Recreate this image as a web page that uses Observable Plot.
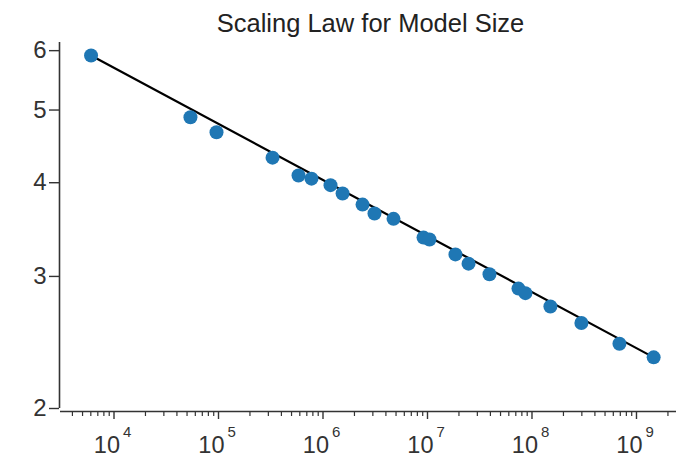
<!DOCTYPE html>
<html>
<head>
<meta charset="utf-8">
<script src="https://cdn.jsdelivr.net/npm/d3@7"></script>
<script src="https://cdn.jsdelivr.net/npm/@observablehq/plot@0.6"></script>
<style>
  html, body { margin: 0; padding: 0; background: #fff; }
</style>
</head>
<body>
<div id="chart"></div>
<script>
const title = "Scaling Law for Model Size";

// Observed points (model size, loss)
const modelSize = [6030, 53900, 95700, 329000, 583000, 776000, 1.18e6, 1.54e6, 2.39e6, 3.11e6, 4.73e6,
                   9.16e6, 1.045e7, 1.85e7, 2.47e7, 3.92e7, 7.42e7, 8.65e7, 1.50e8, 2.97e8, 6.87e8, 1.46e9];
const loss      = [5.91, 4.89, 4.67, 4.32, 4.09, 4.05, 3.97, 3.87, 3.74, 3.64, 3.58,
                   3.38, 3.36, 3.21, 3.12, 3.02, 2.89, 2.85, 2.735, 2.60, 2.44, 2.34];

// Fitted power-law line endpoints
const fitX = [6030, 1.46e9];
const fitY = [5.91, 2.34];

// Tick labels
const yTicks = [2, 3, 4, 5, 6];
const xMajor = [1e4, 1e5, 1e6, 1e7, 1e8, 1e9];
const xExponents = ["4", "5", "6", "7", "8", "9"];

const xDomain = [3076, 2.415e9];
const yDomain = [2, 6.152];

const points = modelSize.map((m, i) => ({size: m, loss: loss[i]}));
const fit = fitX.map((x, i) => ({size: x, loss: fitY[i]}));
const majors = xMajor.map((v, i) => ({v, e: xExponents[i]}));

const xMinor = [];
for (let d = 1e3; d <= 1e9; d *= 10) {
  for (let k = 2; k <= 9; k++) {
    const v = d * k;
    if (v >= xDomain[0] && v <= xDomain[1]) xMinor.push(v);
  }
}

const axisColor = "#333";

const plot = Plot.plot({
  width: 676,
  height: 461,
  marginLeft: 60,
  marginRight: 0,
  marginTop: 42,
  marginBottom: 53,
  style: {fontFamily: "'Liberation Sans', Arial, Helvetica, sans-serif", color: axisColor, background: "#fff"},
  x: {type: "log", domain: xDomain},
  y: {type: "log", domain: yDomain},
  marks: [
    // spines
    Plot.ruleY([yDomain[0]], {stroke: axisColor, strokeWidth: 1.6, dy: 3}),
    Plot.ruleX([xDomain[0]], {stroke: axisColor, strokeWidth: 1.6, dx: -1}),
    // y axis
    Plot.axisY(yTicks, {tickSize: 10, tickPadding: 3, dx: -1, fontSize: 24, tickFormat: d => String(d), label: null, strokeWidth: 1.4}),
    // x axis ticks
    Plot.axisX(xMajor, {tickSize: 8, dy: 3, tickFormat: () => "", label: null, strokeWidth: 1.4}),
    Plot.axisX(xMinor, {tickSize: 5, dy: 3, tickFormat: () => "", label: null, strokeWidth: 1.2}),
    // x tick labels: 10^n
    Plot.text(majors, {x: "v", frameAnchor: "bottom", text: () => "10", textAnchor: "end", lineAnchor: "bottom", dx: 6, dy: 44, fontSize: 23.5, fill: axisColor}),
    Plot.text(majors, {x: "v", frameAnchor: "bottom", text: "e", textAnchor: "start", lineAnchor: "bottom", dx: 9, dy: 28, fontSize: 15, fill: axisColor}),
    // fit line and points
    Plot.line(fit, {x: "size", y: "loss", stroke: "#000", strokeWidth: 2.2}),
    Plot.dot(points, {x: "size", y: "loss", r: 7, fill: "#1f77b4", stroke: "none"}),
    // title
    Plot.text([title], {frameAnchor: "top", lineAnchor: "bottom", dy: -11, dx: 2, fontSize: 25.5, fill: "#222"})
  ]
});

document.getElementById("chart").appendChild(plot);
</script>
</body>
</html>
